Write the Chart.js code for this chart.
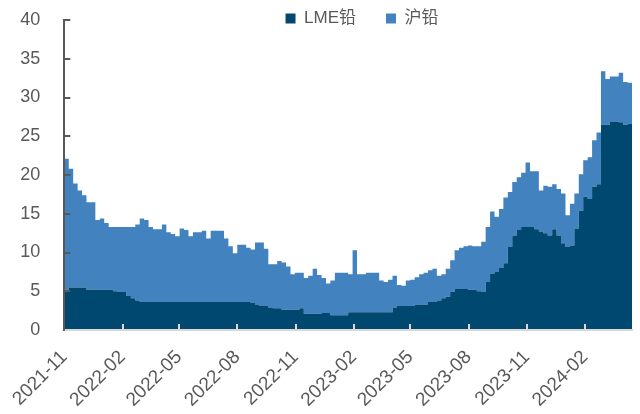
<!DOCTYPE html>
<html>
<head>
<meta charset="utf-8">
<script src="https://cdn.jsdelivr.net/npm/chart.js@4.4.1/dist/chart.umd.min.js"></script>
<style>
html,body{margin:0;padding:0;background:#ffffff;}
#wrap{width:640px;height:414px;}
</style>
</head>
<body>
<div id="wrap"><canvas id="c" width="640" height="414"></canvas></div>
<script>
// ---- data (weekly samples starting 2021-11-01) ----
const startDate = '2021-11-01';
const stepDays = 7;
const tickLabels = ['2021-11','2022-02','2022-05','2022-08','2022-11','2023-02','2023-05','2023-08','2023-11','2024-02'];
const seriesNames = ['LME铅', '沪铅'];

const lmeLead = [
  5.2, 5.5, 5.5, 5.5, 5.5, 5.2, 5.2, 5.2, 5.2, 5.2,
  5.2, 5.0, 4.9, 4.9, 4.4, 4.1, 3.8, 3.6, 3.6, 3.6,
  3.6, 3.6, 3.6, 3.6, 3.6, 3.6, 3.6, 3.6, 3.6, 3.6,
  3.6, 3.6, 3.6, 3.6, 3.6, 3.6, 3.6, 3.6, 3.6, 3.6,
  3.6, 3.6, 3.5, 3.3, 3.1, 3.1, 2.9, 2.8, 2.8, 2.6,
  2.6, 2.6, 2.6, 2.8, 2.1, 2.1, 2.1, 2.1, 2.2, 2.2,
  1.9, 1.9, 1.9, 1.9, 2.3, 2.3, 2.3, 2.3, 2.3, 2.3,
  2.3, 2.3, 2.3, 2.3, 2.9, 3.1, 3.1, 3.1, 3.1, 3.3,
  3.3, 3.3, 3.6, 3.6, 3.8, 4.1, 4.3, 4.9, 5.3, 5.3,
  5.3, 5.2, 5.2, 5.0, 4.9, 6.2, 7.3, 7.5, 8.0, 8.6,
  10.7, 12.2, 12.9, 13.3, 13.3, 13.3, 13.0, 12.7, 12.5, 12.2,
  13.0, 12.2, 11.2, 10.7, 10.9, 13.1, 15.4, 17.2, 16.9, 18.5,
  18.8, 26.5, 26.5, 26.9, 26.9, 26.8, 26.5, 26.6, 26.6
];

const shfeLead = [
  16.9, 15.3, 13.4, 12.5, 11.9, 11.3, 11.3, 9.0, 9.2, 8.6,
  8.1, 8.3, 8.4, 8.4, 8.9, 9.2, 9.8, 10.8, 10.6, 9.7,
  9.4, 9.4, 10.0, 9.0, 8.8, 8.5, 9.5, 9.3, 8.5, 9.0,
  9.0, 9.2, 8.2, 9.2, 9.2, 9.2, 8.2, 7.2, 6.3, 7.4,
  7.4, 7.0, 6.9, 8.0, 8.2, 7.4, 5.6, 5.7, 6.1, 6.1,
  5.6, 4.6, 4.8, 4.6, 4.6, 4.9, 5.8, 5.0, 4.5, 3.8,
  4.5, 5.5, 5.5, 5.5, 4.9, 8.0, 4.9, 4.9, 5.1, 5.1,
  5.1, 4.1, 3.9, 4.2, 4.1, 2.7, 2.6, 3.3, 3.4, 3.5,
  3.9, 4.1, 4.1, 4.3, 3.2, 3.1, 3.6, 4.1, 5.0, 5.3,
  5.5, 5.7, 5.6, 5.8, 6.5, 7.1, 8.0, 7.1, 7.6, 8.5,
  7.1, 6.9, 6.8, 7.0, 8.3, 7.2, 7.5, 5.3, 6.1, 6.3,
  5.8, 6.0, 6.4, 4.1, 5.4, 4.5, 4.7, 4.7, 5.4, 6.0,
  6.7, 6.9, 5.9, 5.8, 5.8, 6.4, 5.5, 5.3, 5.3
];

// ---- helpers ----
const DAY = 86400000;
const dayOf = (s) => Math.round((Date.parse(s) - Date.parse(startDate)) / DAY);
const tickDays = tickLabels.map(l => dayOf(l + '-01'));
const toPoints = (arr) => arr.map((v, i) => ({ x: i * stepDays, y: v }));
const lastDay = (lmeLead.length - 1) * stepDays;

const FONT = "'Liberation Sans', 'Noto Sans CJK SC', Arial, sans-serif";
const TEXT = '#595959';
const DARK = '#00486F';
const LIGHT = '#4282BE';

const axisMarks = {
  id: 'axisMarks',
  afterLayout(chart) {
    const lg = chart.legend;
    if (!lg) return;
    const dx = 362 - (lg.left + lg.right) / 2;
    lg.left += dx;
    lg.right += dx;
    lg.top = -20;
    lg.bottom = 40;
  },
  afterDraw(chart) {
    const { ctx, chartArea: a, scales } = chart;
    const x = scales.x, y = scales.y;
    ctx.save();
    ctx.lineWidth = 2;
    ctx.strokeStyle = TEXT;
    y.ticks.forEach(t => {
      if (t.value === 0) return;
      const py = Math.round(y.getPixelForValue(t.value));
      ctx.beginPath();
      ctx.moveTo(a.left, py);
      ctx.lineTo(a.left + 6, py);
      ctx.stroke();
    });
    ctx.strokeStyle = '#D9D9D9';
    x.ticks.forEach(t => {
      if (t.value === 0) return;
      const px = Math.round(x.getPixelForValue(t.value));
      ctx.beginPath();
      ctx.moveTo(px, a.bottom);
      ctx.lineTo(px, a.bottom - 6);
      ctx.stroke();
    });
    ctx.restore();
  }
};

new Chart(document.getElementById('c'), {
  type: 'line',
  data: {
    datasets: [
      {
        label: seriesNames[0],
        data: toPoints(lmeLead),
        backgroundColor: DARK,
        borderColor: DARK,
        borderWidth: 0,
        fill: 'origin',
        pointRadius: 0,
        stepped: 'before'
      },
      {
        label: seriesNames[1],
        data: toPoints(shfeLead),
        backgroundColor: LIGHT,
        borderColor: LIGHT,
        borderWidth: 0,
        fill: '-1',
        pointRadius: 0,
        stepped: 'before'
      }
    ]
  },
  options: {
    responsive: false,
    animation: false,
    devicePixelRatio: 1,
    layout: { padding: { left: 0, right: 8, top: 0, bottom: 0 } },
    plugins: {
      tooltip: { enabled: false },
      legend: {
        position: 'top',
        maxHeight: 20,
        labels: {
          boxWidth: 10,
          boxHeight: 10,
          padding: 30,
          color: TEXT,
          font: { size: 17, family: FONT }
        }
      }
    },
    scales: {
      x: {
        type: 'linear',
        min: 0,
        max: lastDay,
        afterBuildTicks(s) { s.ticks = tickDays.map(v => ({ value: v })); },
        afterFit(s) { s.height = 84; },
        ticks: {
          autoSkip: false,
          maxRotation: 45,
          minRotation: 45,
          padding: 16,
          color: TEXT,
          font: { size: 19, family: FONT },
          callback: (v, i) => tickLabels[i]
        },
        grid: { display: false, drawTicks: false },
        border: { display: true, color: '#D9D9D9', width: 2, z: 1 }
      },
      y: {
        stacked: true,
        min: 0,
        max: 40,
        afterFit(s) { s.width = 64; s.paddingTop = 0; s.paddingBottom = 0; },
        ticks: {
          stepSize: 5,
          padding: 24,
          color: TEXT,
          font: { size: 18, family: FONT }
        },
        grid: { display: false, drawTicks: false },
        border: { display: true, color: TEXT, width: 2, z: 1 }
      }
    }
  },
  plugins: [axisMarks]
});
</script>
</body>
</html>
